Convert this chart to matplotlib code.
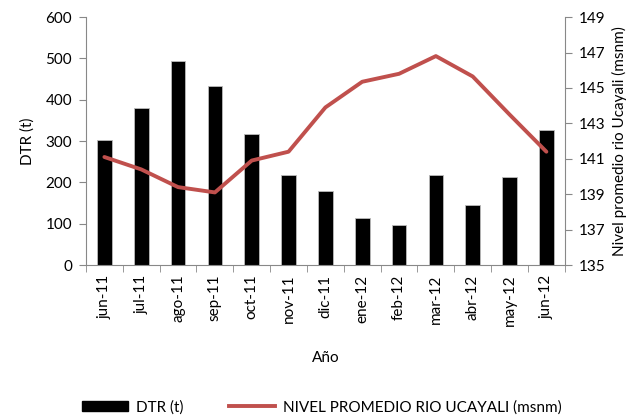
import numpy as np
from matplotlib import pyplot as plt
from matplotlib.lines import Line2D
from matplotlib.patches import Patch

plt.rcParams['font.family'] = ['Lato', 'DejaVu Sans']
plt.rcParams['font.size'] = 11

# Data -----------------------------------------
meses = ["jun-11", "jul-11", "ago-11", "sep-11", "oct-11", "nov-11", "dic-11",
         "ene-12", "feb-12", "mar-12", "abr-12", "may-12", "jun-12"]
dtr = [302, 381, 494, 434, 317, 219, 180, 114, 96, 219, 145, 212, 328]
nivel = [141.1, 140.4, 139.4, 139.1, 140.9, 141.4, 143.9,
         145.35, 145.8, 146.8, 145.65, 143.5, 141.4]

gris = "#888888"
rojo = "#C0504D"

fig = plt.figure(figsize=(6.44, 4.18), dpi=100)
ax = fig.add_axes([0.1335, 0.366, 0.7435, 0.593])
ax2 = ax.twinx()

x = np.arange(len(meses))
ax.bar(x, dtr, width=0.4, color="black", edgecolor="#bbbbbb", linewidth=0.6, zorder=2)
ax2.plot(x, nivel, color=rojo, lw=2.8, solid_capstyle="round", zorder=3)

ax.set_xlim(-0.5, len(meses) - 0.5)
ax.set_ylim(0, 600)
ax.set_yticks(range(0, 601, 100))
ax2.set_ylim(135, 149)
ax2.set_yticks(range(135, 150, 2))

ax.set_xticks(x)
ax.set_xticklabels(meses, rotation=90)
ax.tick_params(axis="x", length=0, pad=7)
ax.set_xticks(np.arange(-0.5, len(meses), 1), minor=True)
ax.tick_params(axis="x", which="minor", length=5, color=gris, direction="out")

for a in (ax, ax2):
    for s in a.spines.values():
        s.set_visible(False)
ax.spines["left"].set_visible(True)
ax.spines["left"].set_color(gris)
ax.spines["bottom"].set_visible(True)
ax.spines["bottom"].set_color(gris)
ax2.spines["right"].set_visible(True)
ax2.spines["right"].set_color(gris)
ax.tick_params(axis="y", length=5, color=gris, pad=5)
ax2.tick_params(axis="y", length=5, color=gris, pad=5)

ax.set_ylabel("DTR (t)", labelpad=8)
ax2.set_ylabel("Nivel promedio rio Ucayali (msnm)", labelpad=5)
ax.set_xlabel("Año", labelpad=18)

handles = [Patch(facecolor="black", edgecolor="black"),
           Line2D([0], [0], color=rojo, lw=2.8)]
fig.legend(handles, ["DTR (t)", "NIVEL PROMEDIO RIO UCAYALI (msnm)"],
           loc="center", bbox_to_anchor=(0.5, 0.026), ncol=2, frameon=False,
           handlelength=3, columnspacing=3, handletextpad=0.5)

plt.savefig("out.png", dpi=100)
